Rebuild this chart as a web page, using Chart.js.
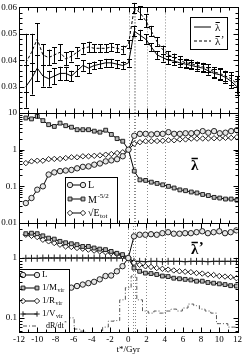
<!DOCTYPE html>
<html>
<head>
<meta charset="utf-8">
<script src="https://cdn.jsdelivr.net/npm/chart.js@4"></script>
<style>
body { margin: 0; background: #fff; }
#wrap { position: relative; width: 244px; height: 355px; }
#wrap canvas { position: absolute; left: 0; top: 0; }
</style>
</head>
<body>
<div id="wrap">
<canvas id="p1" width="244" height="355"></canvas>
<canvas id="p2" width="244" height="355"></canvas>
<canvas id="p3" width="244" height="355"></canvas>
</div>
<script>
var FONT = 'Liberation Serif';

// snapshot times in Gyr, merger at t*=0
var tGyr = [-11.25, -10.63, -10, -9.38, -8.75, -8.13, -7.5, -6.88, -6.25, -5.63, -5, -4.38, -3.75, -3.13, -2.5, -1.88, -1.25, -0.63, 0,
            0.63, 1.25, 1.88, 2.5, 3.13, 3.75, 4.38, 5, 5.63, 6.25, 6.88, 7.5, 8.13, 8.75, 9.38, 10, 10.63, 11.25, 11.88];

// top panel: spin parameters with errors
var lamBar = [0.030, 0.033, 0.037, 0.034, 0.033, 0.034, 0.035, 0.035, 0.034, 0.036, 0.038, 0.037, 0.038, 0.0385, 0.039, 0.039, 0.0385, 0.038, 0.039,
              0.051, 0.0495, 0.048, 0.045, 0.042, 0.041, 0.040, 0.0397, 0.039, 0.0385, 0.038, 0.0375, 0.037, 0.036, 0.035, 0.0345, 0.0335, 0.032, 0.030];
var lamBarErr = [0.008, 0.006, 0.005, 0.004, 0.003, 0.003, 0.0025, 0.0025, 0.002, 0.002, 0.002, 0.002, 0.0015, 0.0015, 0.0015, 0.0015, 0.0015, 0.0015, 0.0015,
                 0.002, 0.002, 0.0018, 0.0015, 0.0015, 0.0015, 0.0015, 0.0015, 0.0015, 0.0015, 0.0015, 0.0015, 0.0015, 0.0015, 0.0018, 0.002, 0.002, 0.0025, 0.003];
var lamPrime = [0.039, 0.043, 0.048, 0.042, 0.041, 0.042, 0.043, 0.0405, 0.0415, 0.043, 0.0445, 0.045, 0.0445, 0.0445, 0.0445, 0.045, 0.0445, 0.044, 0.046,
                0.0597, 0.058, 0.055, 0.051, 0.047, 0.044, 0.042, 0.041, 0.040, 0.039, 0.0387, 0.038, 0.0375, 0.037, 0.0355, 0.035, 0.034, 0.033, 0.031];
var lamPrimeErr = [0.011, 0.007, 0.006, 0.004, 0.003, 0.003, 0.003, 0.0025, 0.002, 0.002, 0.002, 0.002, 0.0015, 0.0015, 0.0015, 0.0015, 0.0015, 0.0015, 0.0015,
                   0.002, 0.0025, 0.0025, 0.002, 0.0018, 0.0015, 0.0015, 0.0015, 0.0015, 0.0015, 0.0015, 0.0015, 0.0015, 0.0015, 0.0018, 0.002, 0.002, 0.0025, 0.003];

// middle panel, normalised at t*=0
var midL = [0.035, 0.048, 0.081, 0.10, 0.21, 0.24, 0.26, 0.27, 0.28, 0.31, 0.34, 0.35, 0.39, 0.42, 0.48, 0.51, 0.55, 0.66, 1.0,
            2.4, 2.7, 2.7, 2.6, 2.7, 2.7, 3.0, 2.7, 2.7, 2.8, 2.8, 2.9, 3.2, 2.9, 3.2, 2.8, 2.9, 3.2, 3.4];
var midM = [7.3, 6.9, 8.1, 6.2, 4.8, 4.3, 5.3, 4.5, 4.1, 3.5, 3.5, 3.5, 3.2, 3.0, 3.4, 2.6, 2.0, 1.7, 1.0,
            0.26, 0.15, 0.145, 0.13, 0.12, 0.11, 0.10, 0.09, 0.08, 0.076, 0.07, 0.066, 0.06, 0.056, 0.05, 0.048, 0.045, 0.045, 0.042];
var midE = [0.43, 0.48, 0.5, 0.5, 0.55, 0.56, 0.56, 0.59, 0.62, 0.62, 0.66, 0.66, 0.68, 0.7, 0.73, 0.76, 0.81, 0.85, 1.0,
            1.45, 1.6, 1.7, 1.7, 1.72, 1.75, 1.8, 1.8, 1.9, 1.9, 2.0, 2.0, 2.02, 2.02, 2.05, 2.05, 2.1, 2.1, 2.2];

// bottom panel, normalised at t*=0
var botL = [0.04, 0.05, 0.08, 0.1, 0.2, 0.24, 0.27, 0.3, 0.32, 0.34, 0.36, 0.38, 0.4, 0.44, 0.5, 0.51, 0.6, 0.73, 1.0,
            2.3, 2.45, 2.45, 2.5, 2.45, 2.6, 2.7, 2.55, 2.55, 2.6, 2.6, 2.7, 2.8, 2.6, 2.7, 2.8, 2.6, 2.7, 2.9];
var botInvM = [2.55, 2.6, 2.55, 2.35, 2.15, 2.07, 1.9, 1.8, 1.73, 1.67, 1.56, 1.56, 1.47, 1.41, 1.38, 1.29, 1.2, 1.14, 1.0,
               0.68, 0.6, 0.56, 0.55, 0.53, 0.5, 0.49, 0.46, 0.45, 0.44, 0.43, 0.41, 0.41, 0.39, 0.38, 0.37, 0.36, 0.345, 0.34];
var botInvR = [2.45, 2.35, 2.24, 2.02, 1.9, 1.78, 1.67, 1.56, 1.53, 1.47, 1.43, 1.38, 1.33, 1.29, 1.25, 1.21, 1.17, 1.09, 1.0,
               0.83, 0.77, 0.73, 0.71, 0.68, 0.66, 0.64, 0.62, 0.6, 0.59, 0.58, 0.56, 0.55, 0.53, 0.52, 0.5, 0.49, 0.48, 0.46];
var botInvV = [0.99, 0.99, 0.99, 1.0, 1.0, 1.0, 1.0, 1.0, 1.0, 1.0, 1.0, 1.0, 1.0, 1.0, 1.0, 1.0, 1.0, 1.0, 1.0,
               0.88, 0.88, 0.87, 0.88, 0.88, 0.87, 0.88, 0.88, 0.88, 0.87, 0.88, 0.88, 0.88, 0.87, 0.88, 0.88, 0.88, 0.88, 0.88];
var dRdt = [0.03, 0.03, 0.03, 0.03, 0.03, 0.04, 0.05, 0.06, 0.1, 0.065, 0.06, 0.055, 0.055, 0.055, 0.07, 0.088, 0.09, 0.2, 0.32,
            0.5, 0.2, 0.13, 0.12, 0.13, 0.12, 0.13, 0.14, 0.13, 0.146, 0.17, 0.16, 0.14, 0.13, 0.12, 0.08, 0.08, 0.07, 0.07];

// dotted vertical markers (Gyr)
var markTimes = [0, 0.55, 0.75, 2, 4];

var topTicks = [0.03, 0.04, 0.05, 0.06];
var midTicks = [0.01, 0.1, 1, 10];
var botTicks = [0.1, 1];

function pts(arr) {
    return tGyr.map(function (t, i) { return { x: t, y: arr[i] }; });
}

function line(label, arr, style, fill, extra) {
    var ds = {
        label: label,
        data: pts(arr),
        borderColor: '#000',
        borderWidth: 1,
        pointStyle: style || false,
        pointRadius: style ? 2.7 : 0,
        pointBackgroundColor: fill || '#fff',
        pointBorderColor: '#222',
        pointBorderWidth: 1,
        tension: 0
    };
    for (var k in extra) ds[k] = extra[k];
    return ds;
}

function xAxis(bottom) {
    return {
        type: 'linear', min: -12, max: 12,
        grid: { display: false, drawTicks: false }, border: { display: false },
        ticks: { display: bottom, stepSize: 2, autoSkip: false, maxRotation: 0, padding: 2, color: '#000', font: { family: FONT, size: 9 } },
        title: { display: bottom, text: 't*/Gyr', color: '#000', padding: 0, font: { family: FONT, size: 9 } },
        afterFit: function (s) { s.height = bottom ? 23 : 0; }
    };
}

function yAxis(type, min, max, labels, fmt) {
    return {
        type: type, min: min, max: max,
        grid: { display: false, drawTicks: false }, border: { display: false },
        ticks: { autoSkip: false, padding: 2, color: '#000', font: { family: FONT, size: 9 }, callback: fmt },
        afterBuildTicks: function (s) { s.ticks = labels.map(function (v) { return { value: v }; }); },
        afterFit: function (s) { s.width = 19; }
    };
}

// frame, inward ticks, markers, error bars
var frame = {
    id: 'frame',
    beforeDatasetsDraw: function (chart) {
        var ctx = chart.ctx, a = chart.chartArea, xs = chart.scales.x;
        ctx.save();
        ctx.strokeStyle = '#888';
        ctx.lineWidth = 1;
        ctx.setLineDash([1, 2]);
        markTimes.forEach(function (t) {
            var px = Math.round(xs.getPixelForValue(t)) + 0.5;
            ctx.beginPath(); ctx.moveTo(px, a.top); ctx.lineTo(px, a.bottom); ctx.stroke();
        });
        ctx.restore();
    },
    afterDatasetsDraw: function (chart) {
        var ctx = chart.ctx, xs = chart.scales.x, ys = chart.scales.y;
        ctx.save();
        ctx.strokeStyle = '#000';
        ctx.lineWidth = 1;
        chart.data.datasets.forEach(function (ds) {
            if (!ds.err) return;
            ds.data.forEach(function (p, i) {
                var px = Math.round(xs.getPixelForValue(p.x)) + 0.5;
                var y1 = ys.getPixelForValue(p.y - ds.err[i]);
                var y2 = ys.getPixelForValue(p.y + ds.err[i]);
                ctx.beginPath();
                ctx.moveTo(px, y1); ctx.lineTo(px, y2);
                ctx.moveTo(px - 2.5, Math.round(y1) + 0.5); ctx.lineTo(px + 2.5, Math.round(y1) + 0.5);
                ctx.moveTo(px - 2.5, Math.round(y2) + 0.5); ctx.lineTo(px + 2.5, Math.round(y2) + 0.5);
                ctx.stroke();
            });
        });
        ctx.restore();
    },
    afterDraw: function (chart) {
        var ctx = chart.ctx, a = chart.chartArea, xs = chart.scales.x, ys = chart.scales.y;
        var l = Math.round(a.left) + 0.5, r = Math.round(a.right) + 0.5;
        var t = Math.round(a.top) + 0.5, b = Math.round(a.bottom) + 0.5;
        ctx.save();
        ctx.strokeStyle = '#000';
        ctx.lineWidth = 1;
        ctx.strokeRect(l, t, r - l, b - t);
        ctx.beginPath();
        for (var v = -12; v <= 12; v++) {
            var len = v % 2 === 0 ? 5 : 3;
            var px = Math.round(xs.getPixelForValue(v)) + 0.5;
            ctx.moveTo(px, b); ctx.lineTo(px, b - len);
            ctx.moveTo(px, t); ctx.lineTo(px, t + len);
        }
        var marks = [];
        if (ys.type === 'logarithmic') {
            for (var d = -3; d <= 2; d++) {
                for (var m = 1; m <= 9; m++) {
                    var val = m * Math.pow(10, d);
                    if (val >= ys.min && val <= ys.max) marks.push([val, m === 1 ? 5 : 3]);
                }
            }
        } else {
            for (var k = 0; k <= 20; k++) {
                var lv = ys.min + k * 0.002;
                marks.push([lv, k % 5 === 0 ? 5 : 3]);
            }
        }
        marks.forEach(function (mk) {
            var py = Math.round(ys.getPixelForValue(mk[0])) + 0.5;
            ctx.moveTo(l, py); ctx.lineTo(l + mk[1], py);
            ctx.moveTo(r, py); ctx.lineTo(r - mk[1], py);
        });
        ctx.stroke();
        ctx.restore();
    }
};

function legendBox(ctx, x, y, w, h) {
    ctx.fillStyle = '#fff';
    ctx.fillRect(x, y, w, h);
    ctx.strokeStyle = '#000';
    ctx.lineWidth = 1;
    ctx.strokeRect(x + 0.5, y + 0.5, w, h);
}

function sample(ctx, ds, x1, x2, y) {
    ctx.save();
    ctx.strokeStyle = ds.borderColor;
    ctx.lineWidth = 1;
    ctx.setLineDash(ds.borderDash || []);
    ctx.beginPath(); ctx.moveTo(x1, y); ctx.lineTo(x2, y); ctx.stroke();
    ctx.setLineDash([]);
    if (ds.pointStyle) {
        ctx.fillStyle = ds.pointBackgroundColor;
        ctx.strokeStyle = ds.pointBorderColor;
        [x1, x2].forEach(function (px) {
            Chart.helpers.drawPoint(ctx, { pointStyle: ds.pointStyle, radius: 2.7, borderWidth: 1, rotation: 0 }, px, y);
        });
    }
    ctx.restore();
}

function text(ctx, s, x, y, size, sup, sub) {
    ctx.fillStyle = '#000';
    ctx.textBaseline = 'middle';
    ctx.textAlign = 'left';
    ctx.font = size + 'px ' + FONT;
    ctx.fillText(s, x, y);
    var w = ctx.measureText(s).width;
    ctx.font = Math.round(size * 0.65) + 'px ' + FONT;
    if (sup) ctx.fillText(sup, x + w + 0.5, y - size * 0.38);
    if (sub) ctx.fillText(sub, x + w + 0.5, y + size * 0.3);
}

// lambda with an overbar, optional prime
function lambda(ctx, x, y, size, bold, prime) {
    ctx.fillStyle = '#000';
    ctx.strokeStyle = '#000';
    ctx.textBaseline = 'middle';
    ctx.textAlign = 'left';
    ctx.font = (bold ? 'bold ' : '') + size + 'px ' + FONT;
    ctx.fillText('λ', x, y);
    var w = ctx.measureText('λ').width;
    ctx.lineWidth = bold ? 1.5 : 1;
    ctx.beginPath();
    ctx.moveTo(x + 0.5, y - size * 0.5);
    ctx.lineTo(x + w - 0.5, y - size * 0.5);
    ctx.stroke();
    if (prime) ctx.fillText('\u2019', x + w + 0.5, y - size * 0.15);
}

var legend1 = {
    id: 'legend1',
    afterDraw: function (chart) {
        var ctx = chart.ctx, ds = chart.data.datasets;
        legendBox(ctx, 190, 17, 37, 32);
        sample(ctx, ds[0], 194, 211, 27);
        sample(ctx, ds[1], 194, 211, 41);
        lambda(ctx, 215, 28, 11, false, false);
        lambda(ctx, 215, 42, 11, false, true);
    }
};

var legend2 = {
    id: 'legend2',
    afterDatasetsDraw: function (chart) {
        var ctx = chart.ctx, ds = chart.data.datasets;
        legendBox(ctx, 65, 177, 52, 46);
        sample(ctx, ds[0], 70, 83, 185);
        sample(ctx, ds[1], 70, 83, 199);
        sample(ctx, ds[2], 70, 83, 213);
        text(ctx, 'L', 88, 185, 10);
        text(ctx, 'M', 88, 200, 10, '-5/2');
        text(ctx, '\u221AE', 88, 213, 10, null, 'tot');
        lambda(ctx, 191, 166, 15, true, false);
    }
};

var legend3 = {
    id: 'legend3',
    afterDatasetsDraw: function (chart) {
        var ctx = chart.ctx, ds = chart.data.datasets;
        legendBox(ctx, 19, 269, 50, 63);
        sample(ctx, ds[0], 23, 37, 275);
        sample(ctx, ds[1], 23, 37, 288);
        sample(ctx, ds[2], 23, 37, 301);
        sample(ctx, ds[3], 23, 37, 314);
        sample(ctx, ds[4], 23, 37, 326);
        text(ctx, 'L', 42, 275, 9);
        text(ctx, '1/M', 42, 288, 9, null, 'vir');
        text(ctx, '1/R', 42, 301, 9, null, 'vir');
        text(ctx, '1/V', 42, 314, 9, null, 'vir');
        text(ctx, 'dR/dt', 46, 326, 8, '*');
        lambda(ctx, 191, 250, 15, true, true);
    }
};

function base(padding, bottom, yA) {
    return {
        responsive: false,
        animation: false,
        layout: { padding: padding },
        plugins: { legend: { display: false }, tooltip: { enabled: false } },
        scales: { x: xAxis(bottom), y: yA }
    };
}

new Chart(document.getElementById('p1'), {
    type: 'line',
    data: {
        datasets: [
            line('λ̄', lamBar, null, null, { err: lamBarErr }),
            line('λ̄\'', lamPrime, null, null, { err: lamPrimeErr, borderDash: [3, 2] })
        ]
    },
    options: base({ top: 5, bottom: 242, left: 0, right: 6 }, false,
        yAxis('linear', 0.02, 0.06, topTicks, function (v) { return v.toFixed(2); })),
    plugins: [frame, legend1]
});

new Chart(document.getElementById('p2'), {
    type: 'line',
    data: {
        datasets: [
            line('L', midL, 'circle', '#e6e6e6'),
            line('M^-5/2', midM, 'rect', '#b8b8b8'),
            line('sqrt E_tot', midE, 'rectRot', '#fff')
        ]
    },
    options: base({ top: 113, bottom: 132, left: 0, right: 6 }, false,
        yAxis('logarithmic', 0.01, 10, midTicks, function (v) { return String(v); })),
    plugins: [frame, legend2]
});

new Chart(document.getElementById('p3'), {
    type: 'line',
    data: {
        datasets: [
            line('L', botL, 'circle', '#e6e6e6'),
            line('1/M_vir', botInvM, 'rect', '#b8b8b8'),
            line('1/R_vir', botInvR, 'rectRot', '#fff'),
            line('1/V_vir', botInvV, 'cross', '#fff', { pointRadius: 3.5 }),
            line('dR/dt', dRdt, null, null, { borderColor: '#555', borderDash: [4, 2, 1, 2], stepped: 'middle' })
        ]
    },
    options: base({ top: 223, bottom: 0, left: 0, right: 6 }, true,
        yAxis('logarithmic', 0.058, 3.85, botTicks, function (v) { return String(v); })),
    plugins: [frame, legend3]
});
</script>
</body>
</html>
